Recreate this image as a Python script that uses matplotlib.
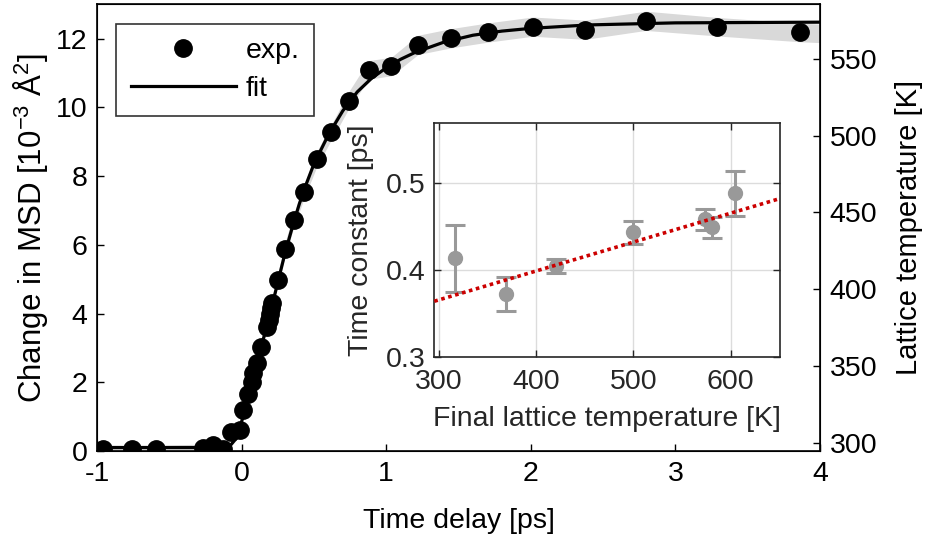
import matplotlib
matplotlib.use("Agg")
import matplotlib.pyplot as plt
import numpy as np

plt.rcParams["font.family"] = ["Liberation Sans", "DejaVu Sans"]
plt.rcParams["mathtext.fontset"] = "custom"
plt.rcParams["mathtext.rm"] = "Liberation Sans"
plt.rcParams["axes.unicode_minus"] = False
FS = 20.5

# ---- main panel: MSD change vs time delay ----
t_exp = [-0.96, -0.76, -0.59, -0.265, -0.196, -0.127, -0.07, -0.01, 0.012, 0.046,
         0.069, 0.081, 0.104, 0.132, 0.177, 0.188, 0.197, 0.205, 0.212, 0.25,
         0.30, 0.362, 0.432, 0.52, 0.62, 0.74, 0.878, 1.036, 1.221, 1.445,
         1.705, 2.013, 2.375, 2.795, 3.285, 3.862, 4.3]
msd_exp = [0.05, 0.05, 0.05, 0.08, 0.17, 0.05, 0.54, 0.61, 1.19, 1.66,
           2.02, 2.26, 2.57, 3.04, 3.62, 3.8, 4.0, 4.15, 4.32, 4.98,
           5.87, 6.72, 7.55, 8.49, 9.27, 10.2, 11.09, 11.19, 11.82, 12.01,
           12.18, 12.35, 12.26, 12.52, 12.35, 12.18, 12.1]
msd_err = [0.12, 0.12, 0.12, 0.12, 0.12, 0.12, 0.12, 0.12, 0.15, 0.15,
           0.15, 0.15, 0.15, 0.15, 0.15, 0.15, 0.15, 0.15, 0.15, 0.18,
           0.2, 0.2, 0.2, 0.22, 0.22, 0.25, 0.27, 0.27, 0.28, 0.28,
           0.28, 0.28, 0.28, 0.28, 0.27, 0.27, 0.27]

t_fit = [-1.0, -0.15, -0.08, -0.03, 0.0, 0.05, 0.1, 0.15, 0.2, 0.25, 0.3, 0.35,
         0.4, 0.45, 0.5, 0.6, 0.7, 0.8, 0.9, 1.0, 1.1, 1.2, 1.4, 1.6, 1.8,
         2.0, 2.4, 3.0, 4.0]
msd_fit = [0.1, 0.1, 0.15, 0.4, 0.85, 1.6, 2.45, 3.25, 4.05, 4.9, 5.75, 6.5,
           7.2, 7.8, 8.35, 9.2, 9.9, 10.45, 10.85, 11.15, 11.4, 11.6, 11.9,
           12.1, 12.22, 12.3, 12.4, 12.46, 12.48]

# ---- inset: time constant vs final lattice temperature ----
T_fin = [316.5, 368.6, 420.4, 500.0, 573.7, 581.2, 604.5]
tau = [0.413, 0.372, 0.404, 0.443, 0.458, 0.449, 0.488]
tau_err = [0.039, 0.020, 0.008, 0.0135, 0.012, 0.012, 0.026]
T_line = [295, 651]
tau_line = [0.3638, 0.482]

fig = plt.figure(figsize=(9.28, 5.45), dpi=100)
ax = fig.add_axes([0.1045, 0.1725, 0.7791, 0.8196])

lo = np.array(msd_exp) - np.array(msd_err)
hi = np.array(msd_exp) + np.array(msd_err)
ax.fill_between(t_exp, lo, hi, color="#d9d9d9", lw=0, zorder=1)
ax.plot(t_fit, msd_fit, color="black", lw=2.3, zorder=2, label="fit")
ax.plot(t_exp, msd_exp, "o", color="black", ms=12.5, zorder=3, label="exp.")

ax.set_xlim(-1, 4)
ax.set_ylim(0, 13)
ax.set_xticks([-1, 0, 1, 2, 3, 4])
ax.set_yticks([0, 2, 4, 6, 8, 10, 12])
ax.tick_params(direction="in", length=5, width=1, labelsize=FS, pad=7,
               top=False, right=False)
for sp in ax.spines.values():
    sp.set_linewidth(1.2)
ax.set_xlabel("Time delay [ps]", fontsize=FS, labelpad=15)
ax.set_ylabel(r"Change in MSD [10$^{\mathregular{-3}}$ Å$^{\mathregular{2}}$]",
              fontsize=22.5, labelpad=4)

h, l = ax.get_legend_handles_labels()
leg = ax.legend([h[1], h[0]], [l[1], l[0]], loc="upper left",
                bbox_to_anchor=(0.027, 0.956), borderaxespad=0, fontsize=FS,
                handlelength=3.7, handletextpad=0.35, labelspacing=0.42,
                borderpad=0.5, fancybox=False, framealpha=1, numpoints=1)
leg.get_frame().set_edgecolor("#333333")
leg.get_frame().set_linewidth(1.2)

ax2 = ax.twinx()
ax2.set_ylim(295, 585.3)
ax2.set_yticks([300, 350, 400, 450, 500, 550])
ax2.tick_params(direction="in", length=5, width=1, labelsize=FS, pad=7)
ax2.set_ylabel("Lattice temperature [K]", fontsize=21, labelpad=13)

# inset
ins = fig.add_axes([0.468, 0.3455, 0.3725, 0.4283])
ins.set_facecolor("white")
ins.grid(True, color="#dcdcdc", lw=1)
ins.set_axisbelow(True)
ins.plot(T_line, tau_line, color="#cc0000", lw=2.6, ls=(0, (1, 1)), zorder=3)
ins.errorbar(T_fin, tau, yerr=tau_err, fmt="o", color="#999999", ms=10,
             elinewidth=2.2, capsize=7, capthick=2.2, zorder=2)
ins.set_xlim(295, 650.8)
ins.set_ylim(0.3, 0.5685)
ins.set_xticks([300, 400, 500, 600])
ins.set_yticks([0.3, 0.4, 0.5])
ins.tick_params(direction="in", length=5, width=1, labelsize=FS, colors="#262626",
                top=True, right=True)
ins.tick_params(axis="x", pad=9)
ins.tick_params(axis="y", pad=6)
for sp in ins.spines.values():
    sp.set_color("#262626")
    sp.set_linewidth(1.2)
ins.set_xlabel("Final lattice temperature [K]", fontsize=FS, color="#262626", labelpad=8)
ins.set_ylabel("Time constant [ps]", fontsize=FS, color="#262626", labelpad=9)

fig.savefig("out.png", dpi=100)
